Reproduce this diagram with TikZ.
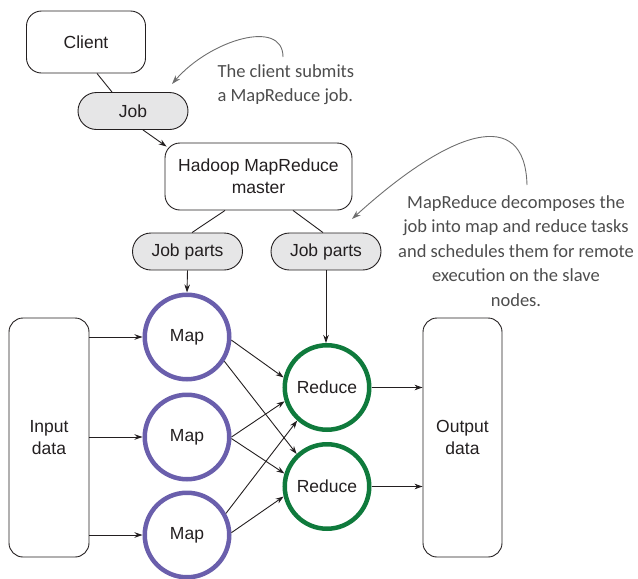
\documentclass[tikz,border=0pt]{standalone}
\usepackage{fontspec}
\setmainfont{Liberation Sans}
\newfontfamily\handfont{Carlito}
\usetikzlibrary{arrows.meta,calc,shapes.misc}

\definecolor{ink}{HTML}{231F20}
\definecolor{mapcol}{HTML}{6A5FAC}
\definecolor{redcol}{HTML}{0F7A3C}
\definecolor{pillfill}{HTML}{E6E6E7}
\definecolor{notecol}{HTML}{4D4D4D}
\definecolor{notearrow}{HTML}{6E6E6E}

\tikzset{
  txt/.style={font=\fontsize{17.5}{20}\selectfont, text=ink, align=center},
  boxnode/.style={txt, draw=ink, line width=0.9pt, rounded corners=15pt, inner sep=0pt},
  pill/.style={txt, draw=ink, line width=0.9pt, fill=pillfill, rounded rectangle,
    minimum width=110pt, minimum height=37pt, inner sep=0pt},
  mapnode/.style={txt, circle, draw=mapcol, line width=4.5pt, minimum size=84.5pt, inner sep=0pt},
  rednode/.style={txt, circle, draw=redcol, line width=4.5pt, minimum size=84.5pt, inner sep=0pt},
  link/.style={draw=ink, line width=0.9pt},
  flow/.style={link, -{Stealth[length=8pt,width=5.5pt]}},
  note/.style={font=\handfont\fontsize{18.5}{24}\selectfont, text=notecol},
  notearrowstyle/.style={draw=notearrow, line width=0.9pt, -{Stealth[length=9pt,width=6pt]}}
}

\begin{document}
\begin{tikzpicture}[x=1pt, y=-1pt]
  \useasboundingbox (0,0) rectangle (638,579);

  % job submission
  \node[boxnode, minimum width=119pt, minimum height=62pt] (client) at (86,42) {Client};
  \node[pill] (job) at (133,111) {Job};
  \node[boxnode, minimum width=187pt, minimum height=67pt] (master) at (258.5,176.5)
    {Hadoop MapReduce\\[2pt]master};
  \node[pill] (jp1) at (187.5,251.5) {Job parts};
  \node[pill] (jp2) at (326,251.5) {Job parts};

  % data and tasks
  \node[boxnode, rounded corners=14pt, minimum width=80pt, minimum height=239pt] (input) at (49,437.5)
    {Input\\[2pt]data};
  \node[boxnode, rounded corners=14pt, minimum width=79pt, minimum height=239pt] (output) at (462.5,437.5)
    {Output\\[2pt]data};

  \node[mapnode] (m1) at (187,337) {Map};
  \node[mapnode] (m2) at (187,437) {Map};
  \node[mapnode] (m3) at (187,535) {Map};
  \node[rednode] (r1) at (327,387.5) {Reduce};
  \node[rednode] (r2) at (327,486.5) {Reduce};

  % connectors
  \draw[link] ($(client.south)+(11,0)$) -- ($(job.north)+(-21,0)$);
  \draw[flow] ($(job.south)+(10,0)$) -- ($(master.north west)+(2,4)$);
  \draw[link] ($(master.south)+(-33.5,0)$) -- ($(jp1.north)+(4.5,0)$);
  \draw[link] ($(master.south)+(34.5,0)$) -- ($(jp2.north)+(-3,0)$);
  \draw[flow] (jp1.south) -- (m1.north);
  \draw[flow] (jp2.south) -- (jp2.south |- r1.north);

  \draw[flow] (input.east |- m1.west) -- (m1.west);
  \draw[flow] (input.east |- m2.west) -- (m2.west);
  \draw[flow] (input.east |- m3.west) -- (m3.west);

  \draw[flow] (m1.-4) -- (r1.167);
  \draw[flow] (m1.-33) -- (r2.133);
  \draw[flow] (m2.0) -- (r1.-162);
  \draw[flow] (m2.-2) -- (r2.163);
  \draw[flow] (m3.29) -- (r1.228);
  \draw[flow] (m3.3) -- (r2.193);

  \draw[flow] (r1.east) -- (r1.east -| output.west);
  \draw[flow] (r2.east) -- (r2.east -| output.west);

  % annotations
  \node[note, align=left, anchor=west] (note1) at (214,85)
    {The client submits\\a MapReduce job.};
  \coordinate (n1start) at (283,57);
  \coordinate (n1end) at (172,84);
  \draw[notearrowstyle] (n1start) .. controls (283,18) and (210,40) .. (n1end);

  \node[note, align=center, font=\handfont\fontsize{18.5}{24.5}\selectfont] (note2) at (516,251)
    {MapReduce decomposes the\\job into map and reduce tasks\\and schedules them for remote\\execution on the slave\\nodes.};
  \coordinate (n2start) at (527,185);
  \coordinate (n2end) at (352,219);
  \draw[notearrowstyle] (n2start) .. controls (525,105) and (450,130) .. (n2end);
\end{tikzpicture}
\end{document}
